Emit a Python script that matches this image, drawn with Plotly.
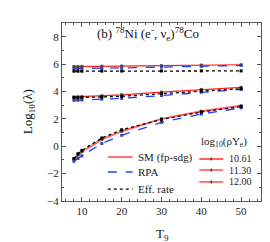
import plotly.graph_objects as go

T9 = [8, 9, 10, 15, 20, 30, 40, 50]
densities = ["10.61", "11.30", "12.00"]
# log10(lambda) for each density (bottom -> top group)
sm = {
    "10.61": [-0.95, -0.65, -0.40, 0.50, 1.10, 2.00, 2.55, 2.95],
    "11.30": [3.60, 3.61, 3.62, 3.68, 3.75, 3.95, 4.15, 4.30],
    "12.00": [5.82, 5.82, 5.83, 5.84, 5.85, 5.88, 5.92, 5.95],
}
rpa = {
    "10.61": [-1.10, -0.90, -0.70, 0.20, 0.80, 1.75, 2.35, 2.80],
    "11.30": [3.35, 3.36, 3.38, 3.44, 3.50, 3.70, 3.95, 4.15],
    "12.00": [5.68, 5.68, 5.69, 5.70, 5.72, 5.78, 5.84, 5.90],
}
eff = {
    "10.61": [-0.90, -0.55, -0.30, 0.60, 1.20, 1.95, 2.50, 2.90],
    "11.30": [3.55, 3.55, 3.56, 3.60, 3.65, 3.85, 4.05, 4.20],
    "12.00": [5.48, 5.48, 5.48, 5.49, 5.49, 5.50, 5.50, 5.50],
}
model_labels = ["SM (fp-sdg)", "RPA", "Eff. rate"]

FONT = "Times New Roman"
fig = go.Figure()
red_styles = {"10.61": ("#ff6060", 2.0), "11.30": ("#ff2020", 1.2), "12.00": ("#ff2020", 1.2)}
for d in densities:
    col, w = red_styles[d]
    fig.add_trace(go.Scatter(x=T9, y=sm[d], mode="lines+markers",
                             line=dict(color=col, width=w),
                             marker=dict(symbol="square", size=3, color="#444444"),
                             showlegend=False))
    fig.add_trace(go.Scatter(x=T9, y=rpa[d], mode="lines+markers",
                             line=dict(color="#2040ff", width=1.3, dash="dash"),
                             marker=dict(symbol="square", size=3, color="#3344aa"),
                             showlegend=False))
    fig.add_trace(go.Scatter(x=T9, y=eff[d], mode="lines+markers",
                             line=dict(color="black", width=1.3, dash="dot"),
                             marker=dict(symbol="square", size=3, color="black"),
                             showlegend=False))

axis_common = dict(showline=True, linecolor="#555", linewidth=1, mirror="ticks",
                   ticks="inside", ticklen=4, tickcolor="#555", showgrid=False, zeroline=False,
                   tickfont=dict(family=FONT, size=11, color="#222"))
fig.update_xaxes(range=[5, 55], tickvals=[10, 20, 30, 40, 50],
                 minor=dict(dtick=2, tick0=0, ticks="inside", ticklen=2, tickcolor="#555"),
                 **axis_common)
fig.update_yaxes(range=[-4, 9], tickvals=[-4, -2, 0, 2, 4, 6, 8],
                 minor=dict(dtick=1, tick0=0, ticks="inside", ticklen=2, tickcolor="#555"),
                 **axis_common)

anns = []
# title text inside plot
anns.append(dict(xref="paper", yref="paper", x=0.165, y=0.94, xanchor="left", yanchor="middle",
                 text="(b) <sup>78</sup>Ni (e<sup>-</sup>, &#957;<sub>e</sub>)<sup>78</sup>Co",
                 showarrow=False, font=dict(family=FONT, size=13, color="#111")))
# axis titles
anns.append(dict(xref="paper", yref="paper", x=0.505, y=-0.19, xanchor="center", yanchor="middle",
                 text="T<sub>9</sub>", showarrow=False, font=dict(family=FONT, size=13, color="#111")))
anns.append(dict(xref="paper", yref="paper", x=-0.17, y=0.5, xanchor="center", yanchor="middle",
                 text="Log<sub>10</sub>(&#955;)", textangle=-90, showarrow=False,
                 font=dict(family=FONT, size=13, color="#111")))
# model legend
shapes = []
leg_y = [0.247, 0.163, 0.067]
styles = [dict(color="#ff2020", width=1.3, dash="solid"),
          dict(color="#2040ff", width=1.3, dash="dash"),
          dict(color="black", width=1.3, dash="dot")]
for lab, yy, st in zip(model_labels, leg_y, styles):
    shapes.append(dict(type="line", xref="paper", yref="paper", x0=0.23, x1=0.355, y0=yy, y1=yy, line=st))
    anns.append(dict(xref="paper", yref="paper", x=0.37, y=yy, xanchor="left", yanchor="middle",
                     text=lab, showarrow=False, font=dict(family=FONT, size=11, color="#222")))
# density legend
anns.append(dict(xref="paper", yref="paper", x=0.69, y=0.33, xanchor="left", yanchor="middle",
                 text="log<sub>10</sub>(&#961;Y<sub>e</sub>)", showarrow=False,
                 font=dict(family=FONT, size=11, color="#222")))
den_y = [0.236, 0.174, 0.107]
for d, yy in zip(densities, den_y):
    col, w = red_styles[d]
    shapes.append(dict(type="line", xref="paper", yref="paper", x0=0.69, x1=0.81, y0=yy, y1=yy,
                       line=dict(color=col, width=w)))
    shapes.append(dict(type="rect", xref="paper", yref="paper", x0=0.746, x1=0.754,
                       y0=yy - 0.008, y1=yy + 0.008, line=dict(width=0), fillcolor="#444444"))
    anns.append(dict(xref="paper", yref="paper", x=0.83, y=yy, xanchor="left", yanchor="middle",
                     text=d, showarrow=False, font=dict(family=FONT, size=10, color="#222")))

fig.update_layout(width=270, height=242, margin=dict(l=54, r=17, t=15, b=49),
                  plot_bgcolor="white", paper_bgcolor="white", showlegend=False,
                  annotations=anns, shapes=shapes)
fig.write_html("out.html")
